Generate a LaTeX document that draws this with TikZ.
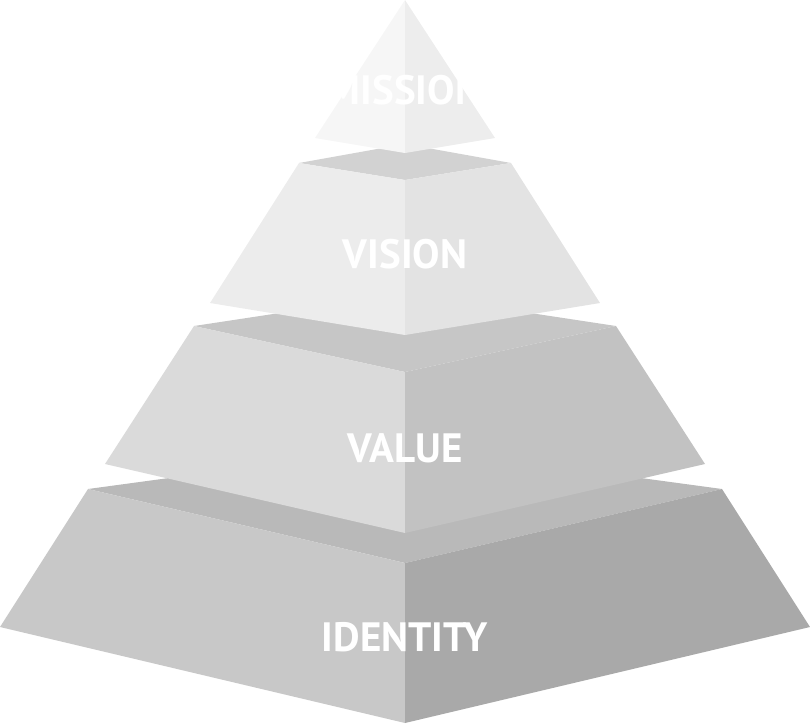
\documentclass[tikz,border=0pt]{standalone}
\usepackage{fontspec}
\setmainfont{PT Sans}
\usepackage{xcolor}
\definecolor{misL}{HTML}{F6F6F6}
\definecolor{misR}{HTML}{EDEDED}
\definecolor{visT}{HTML}{D2D2D2}
\definecolor{visL}{HTML}{ECECEC}
\definecolor{visR}{HTML}{E3E3E3}
\definecolor{valT}{HTML}{C6C6C6}
\definecolor{valL}{HTML}{DADADA}
\definecolor{valR}{HTML}{C2C2C2}
\definecolor{idtT}{HTML}{B9B9B9}
\definecolor{idtL}{HTML}{C8C8C8}
\definecolor{idtR}{HTML}{A9A9A9}

\begin{document}
\begin{tikzpicture}[
  x=1pt, y=-1pt,
  face/.style  = {draw=none},
  label/.style = {text=white, inner sep=0pt, font=\fontsize{41}{41}\selectfont\bfseries}
]
\useasboundingbox (0,0) rectangle (810,723);

%% IDENTITY (bottom tier)
\fill[face, idtT] (88,489) -- (405,446) -- (722,489) -- (405,563) -- cycle;
\fill[face, idtL] (88,489) -- (405,563) -- (405,723) -- (0,627) -- cycle;
\fill[face, idtR] (722,489) -- (405,563) -- (405,723) -- (810,627) -- cycle;

%% VALUE
\fill[face, valT] (194,326) -- (405,294) -- (616,326) -- (405,372) -- cycle;
\fill[face, valL] (194,326) -- (405,372) -- (405,533) -- (105,464) -- cycle;
\fill[face, valR] (616,326) -- (405,372) -- (405,533) -- (705,464) -- cycle;

%% VISION
\fill[face, visT] (299,163) -- (405,144) -- (511,163) -- (405,180) -- cycle;
\fill[face, visL] (299,163) -- (405,180) -- (405,335) -- (210,303) -- cycle;
\fill[face, visR] (511,163) -- (405,180) -- (405,335) -- (600,303) -- cycle;

%% MISSION (top)
\fill[face, misL] (405,0) -- (315,138) -- (405,153) -- cycle;
\fill[face, misR] (405,0) -- (495,138) -- (405,153) -- cycle;

%% Labels
\node[label] (mission)  at (405,90)  {MISSION};
\node[label] (vision)   at (405,254) {VISION};
\node[label] (value)    at (405,448) {VALUE};
\node[label] (identity) at (405,637) {IDENTITY};
\end{tikzpicture}
\end{document}
